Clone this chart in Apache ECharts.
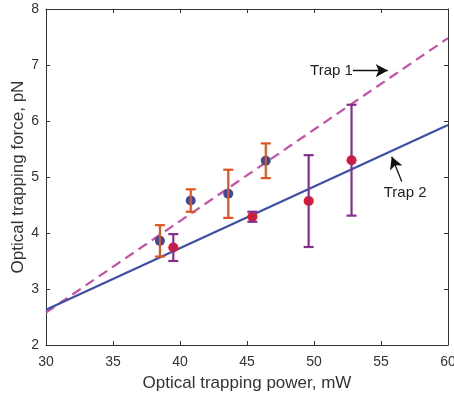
<!DOCTYPE html>
<html><head><meta charset="utf-8">
<script src="https://cdn.jsdelivr.net/npm/echarts@6/dist/echarts.min.js"></script>
<style>html,body{margin:0;padding:0;background:#fff}#c{width:454px;height:398px}</style>
</head><body><div id="c"></div>
<script>
// Trap 1 measurements
const trap1X = [38.5, 40.8, 43.6, 46.4];
const trap1Y = [3.86, 4.58, 4.70, 5.29];
const trap1Err = [0.28, 0.20, 0.43, 0.31];
// Trap 2 measurements
const trap2X = [39.5, 45.4, 49.6, 52.8];
const trap2Y = [3.74, 4.29, 4.57, 5.30];
const trap2Err = [0.24, 0.09, 0.82, 0.99];
// Fit lines (endpoints)
const fitX = [30, 60];
const fit1Y = [2.58, 7.48];
const fit2Y = [2.63, 5.93];
const xTicks = [30, 35, 40, 45, 50, 55, 60];
const yTicks = [2, 3, 4, 5, 6, 7, 8];

const FONT = 'Liberation Sans, Arial, sans-serif';
const axisColor = '#333';

function errSeries(xs, ys, es, color) {
  return {
    type: 'custom',
    z: 5,
    data: xs.map((x, i) => [x, ys[i] - es[i], ys[i] + es[i]]),
    renderItem: function (params, api) {
      const lo = api.coord([api.value(0), api.value(1)]);
      const hi = api.coord([api.value(0), api.value(2)]);
      const w = 5;
      const st = { stroke: color, lineWidth: 2.2, fill: null };
      return {
        type: 'group',
        children: [
          { type: 'line', shape: { x1: lo[0], y1: lo[1], x2: hi[0], y2: hi[1] }, style: st },
          { type: 'line', shape: { x1: lo[0] - w, y1: lo[1], x2: lo[0] + w, y2: lo[1] }, style: st },
          { type: 'line', shape: { x1: hi[0] - w, y1: hi[1], x2: hi[0] + w, y2: hi[1] }, style: st }
        ]
      };
    }
  };
}

const chart = echarts.init(document.getElementById('c'));
const axBase = {
  type: 'value',
  axisLine: { show: true, onZero: false, lineStyle: { color: axisColor, width: 1 } },
  axisTick: { show: true, inside: true, length: 4, lineStyle: { color: axisColor } },
  splitLine: { show: false }
};
chart.setOption({
  animation: false,
  backgroundColor: '#fff',
  grid: { left: 46, right: 6, top: 9, bottom: 53, containLabel: false, outerBoundsMode: 'none' },
  xAxis: [
    Object.assign({}, axBase, {
      min: xTicks[0], max: xTicks[xTicks.length - 1], interval: 5,
      position: 'bottom',
      name: 'Optical trapping power, mW', nameLocation: 'middle', nameGap: 30, nameMoveOverlap: false,
      nameTextStyle: { fontFamily: FONT, fontSize: 17, color: '#333' },
      axisLabel: { fontFamily: FONT, fontSize: 14, color: '#333', margin: 10 }
    }),
    Object.assign({}, axBase, {
      min: xTicks[0], max: xTicks[xTicks.length - 1], interval: 5,
      position: 'top', axisLabel: { show: false }
    })
  ],
  yAxis: [
    Object.assign({}, axBase, {
      min: yTicks[0], max: yTicks[yTicks.length - 1], interval: 1,
      position: 'left',
      name: 'Optical trapping force, pN', nameLocation: 'middle', nameGap: 19, nameMoveOverlap: false,
      nameTextStyle: { fontFamily: FONT, fontSize: 17, color: '#333' },
      axisLabel: { fontFamily: FONT, fontSize: 14, color: '#333', margin: 7 }
    }),
    Object.assign({}, axBase, {
      min: yTicks[0], max: yTicks[yTicks.length - 1], interval: 1,
      position: 'right', axisLabel: { show: false }
    })
  ],
  series: [
    {
      type: 'line', data: fitX.map((x, i) => [x, fit1Y[i]]), showSymbol: false, symbol: 'none',
      lineStyle: { color: '#c94fa6', width: 2.2, type: [10, 6] }, z: 2,
      markLine: {
        silent: true, symbol: ['none', 'arrow'], symbolSize: [10, 12],
        lineStyle: { color: '#111', width: 1.3, type: 'solid' }, label: { show: false },
        data: [[{ coord: [52.9, 6.9] }, { coord: [55.5, 6.9] }]]
      },
      markPoint: {
        symbolSize: 0, silent: true,
        label: { show: true, formatter: 'Trap 1', position: 'left', distance: 0, fontFamily: FONT, fontSize: 15, color: '#222' },
        data: [{ coord: [52.9, 6.9] }]
      }
    },
    {
      type: 'line', data: fitX.map((x, i) => [x, fit2Y[i]]), showSymbol: false, symbol: 'none',
      lineStyle: { color: '#3f4ea6', width: 2.2 }, z: 2,
      markLine: {
        silent: true, symbol: ['none', 'arrow'], symbolSize: [10, 12],
        lineStyle: { color: '#111', width: 1.3, type: 'solid' }, label: { show: false },
        data: [[{ coord: [56.55, 4.92] }, { coord: [55.8, 5.36] }]]
      },
      markPoint: {
        symbolSize: 0, silent: true,
        label: { show: true, formatter: 'Trap 2', position: 'inside', fontFamily: FONT, fontSize: 15, color: '#222' },
        data: [{ coord: [56.8, 4.71] }]
      }
    },
    {
      type: 'scatter', data: trap1X.map((x, i) => [x, trap1Y[i]]), symbolSize: 10,
      itemStyle: { color: '#3a4a9e', opacity: 1 }, z: 4
    },
    {
      type: 'scatter', data: trap2X.map((x, i) => [x, trap2Y[i]]), symbolSize: 10,
      itemStyle: { color: '#ee1420', opacity: 1 }, z: 4
    },
    errSeries(trap1X, trap1Y, trap1Err, '#e2531f'),
    errSeries(trap2X, trap2Y, trap2Err, '#84308f')
  ]
});
</script></body></html>
